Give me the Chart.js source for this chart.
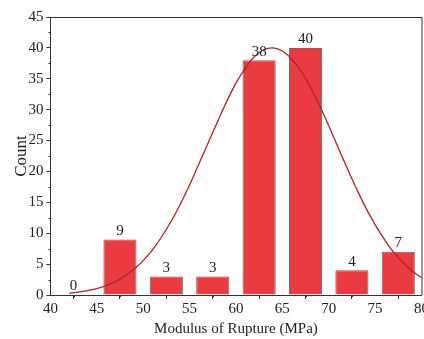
<!DOCTYPE html>
<html>
<head>
<meta charset="utf-8">
<script src="https://cdn.jsdelivr.net/npm/chart.js@4.4.1/dist/chart.umd.min.js"></script>
<style>
  html, body { margin: 0; padding: 0; background: #fff; overflow: hidden; }
  #wrap { width: 430px; height: 339px; }
</style>
</head>
<body>
<div id="wrap"><canvas id="chart" width="430" height="339"></canvas></div>
<script>
/* HISTOGRAM DATA */
const binCentres = [42.5, 47.5, 52.5, 57.5, 62.5, 67.5, 72.5, 77.5];
const counts = [0, 9, 3, 3, 38, 40, 4, 7];

/* NORMAL FIT CURVE (read along the x axis) */
const fitX = [42, 43, 44, 45, 46, 47, 48, 49, 50, 51, 52, 53, 54, 55, 56, 57, 58, 59, 60, 61,
              62, 63, 64, 65, 66, 67, 68, 69, 70, 71, 72, 73, 74, 75, 76, 77, 78, 79, 80];
const fitY = [0.3, 0.46, 0.7, 1.04, 1.52, 2.17, 3.03, 4.15, 5.57, 7.32, 9.43, 11.9, 14.7, 17.8, 21.2, 24.6, 28.0, 31.3, 34.3, 36.7,
              38.6, 39.7, 40.0, 39.5, 38.2, 36.3, 33.7, 30.7, 27.4, 23.9, 20.5, 17.2, 14.1, 11.4, 9.0, 6.9, 5.3, 3.9, 2.8];

/* AXIS TICKS */
const xTicks = [40, 45, 50, 55, 60, 65, 70, 75, 80];
const yTicks = [0, 5, 10, 15, 20, 25, 30, 35, 40, 45];

const serif = "'Liberation Serif', 'Times New Roman', serif";
const ink = '#222';
const axisColor = '#333';

// frame on top/right + minor ticks
const framePlugin = {
    id: 'frame',
    afterDraw(chart) {
        const { ctx, chartArea: a, scales } = chart;
        ctx.save();
        ctx.strokeStyle = axisColor;
        ctx.lineWidth = 1;
        ctx.beginPath();
        ctx.moveTo(a.left, a.top + 0.5);
        ctx.lineTo(a.right + 0.5, a.top + 0.5);
        ctx.lineTo(a.right + 0.5, a.bottom);
        ctx.stroke();

        ctx.beginPath();
        for (let i = 0; i < yTicks.length - 1; i++) {
            const y = Math.round(scales.y.getPixelForValue((yTicks[i] + yTicks[i + 1]) / 2)) + 0.5;
            ctx.moveTo(a.left - 2, y);
            ctx.lineTo(a.left, y);
        }
        for (let i = 0; i < xTicks.length - 1; i++) {
            const x = Math.round(scales.x.getPixelForValue((xTicks[i] + xTicks[i + 1]) / 2)) + 0.5;
            ctx.moveTo(x, a.bottom);
            ctx.lineTo(x, a.bottom + 2);
        }
        ctx.stroke();
        ctx.restore();
    }
};

// count labels above the bars
const labelPlugin = {
    id: 'barLabels',
    afterDatasetsDraw(chart) {
        const ctx = chart.ctx;
        const meta = chart.getDatasetMeta(1);
        ctx.save();
        ctx.font = "15px " + serif;
        ctx.fillStyle = ink;
        ctx.textAlign = 'center';
        ctx.textBaseline = 'bottom';
        meta.data.forEach((bar, i) => {
            ctx.fillText(String(counts[i]), bar.x, bar.y - 1);
        });
        ctx.restore();
    }
};

let ctx = document.getElementById("chart").getContext("2d");

let chart = new Chart(ctx, {
    data: {
        datasets: [{
            type: 'line',
            label: 'Normal fit',
            data: fitX.map((x, i) => ({ x: x, y: fitY[i] })),
            borderColor: '#a8262c',
            borderWidth: 1.3,
            pointRadius: 0,
            tension: 0.4,
            fill: false
        }, {
            type: 'bar',
            label: 'Count',
            data: binCentres.map((x, i) => ({ x: x, y: counts[i] })),
            backgroundColor: '#ea3b40',
            borderColor: '#6a6a6a',
            borderWidth: 1,
            borderSkipped: 'bottom',
            categoryPercentage: 1,
            barPercentage: 0.714
        }]
    },
    options: {
        responsive: false,
        animation: false,
        layout: { padding: { top: 17, left: 11, right: 0, bottom: 0 } },
        plugins: {
            legend: { display: false },
            tooltip: { enabled: false }
        },
        scales: {
            x: {
                type: 'linear',
                min: 40,
                max: 80,
                offset: false,
                afterBuildTicks: s => { s.ticks = xTicks.map(v => ({ value: v })); },
                ticks: { font: { family: serif, size: 15 }, color: ink, padding: 1, maxRotation: 0 },
                grid: { drawOnChartArea: false, tickLength: 4, color: axisColor },
                border: { color: axisColor },
                title: {
                    display: true,
                    text: 'Modulus of Rupture (MPa)',
                    font: { family: serif, size: 15 },
                    color: ink,
                    padding: { top: 1, bottom: 1 }
                }
            },
            y: {
                min: 0,
                max: 45,
                afterBuildTicks: s => { s.ticks = yTicks.map(v => ({ value: v })); },
                ticks: { font: { family: serif, size: 15 }, color: ink, padding: 3 },
                grid: { drawOnChartArea: false, tickLength: 4, color: axisColor },
                border: { color: axisColor },
                title: {
                    display: true,
                    text: 'Count',
                    font: { family: serif, size: 17 },
                    color: ink,
                    padding: { top: 0, bottom: -6 }
                }
            }
        }
    },
    plugins: [framePlugin, labelPlugin]
});
</script>
</body>
</html>
